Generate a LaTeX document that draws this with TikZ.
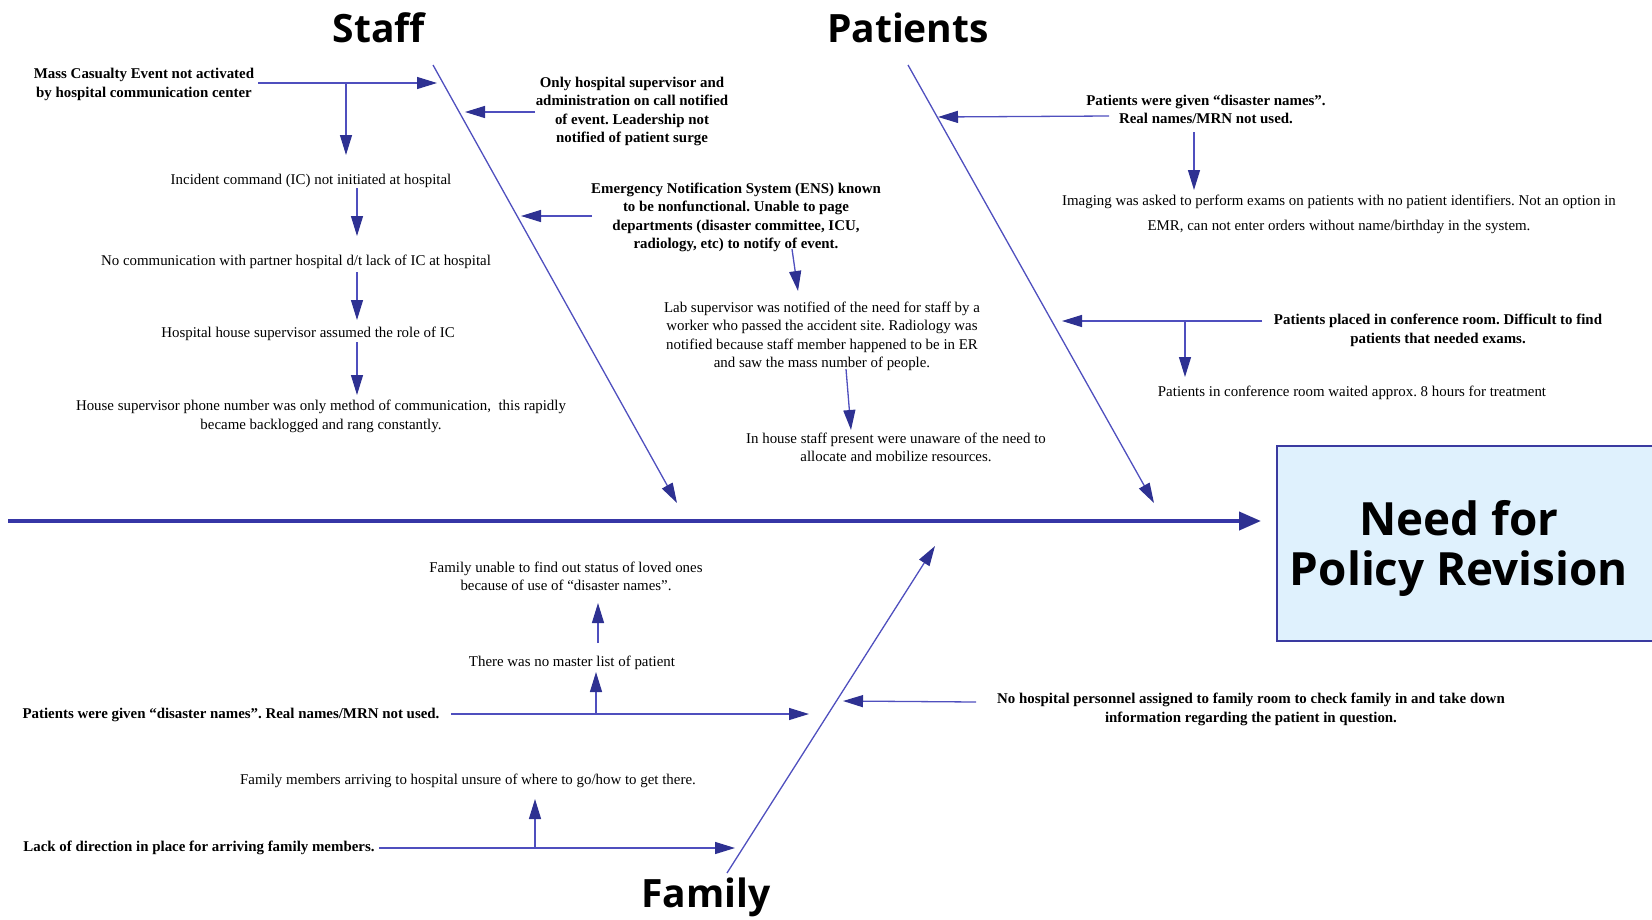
\documentclass[tikz,border=0pt]{standalone}
\usepackage{fontspec}
\setmainfont{Liberation Serif}
\newfontfamily\titlefont{Open Sans}
\usetikzlibrary{arrows.meta,calc}
\frenchspacing
\definecolor{bone}{HTML}{4F4FBE}
\definecolor{arr}{HTML}{2E3192}
\definecolor{spinec}{HTML}{3636A6}
\definecolor{boxfill}{HTML}{DFF1FD}
\definecolor{boxline}{HTML}{3A3AA0}
\tikzset{
  bt/.style={font=\fontsize{14.9}{18.4}\selectfont\bfseries, align=center, inner sep=0pt, yshift=-1.5pt},
  nt/.style={font=\fontsize{14.9}{18.4}\selectfont, align=center, inner sep=0pt, yshift=-1.5pt},
  title/.style={font=\titlefont\fontsize{39}{44}\selectfont\bfseries, inner sep=0pt},
  ar/.style={draw=bone, line width=1.3pt, -{Triangle[length=20pt,width=12pt,color=arr]}},
  bonel/.style={draw=bone, line width=1.3pt, -{Triangle[length=20pt,width=12pt,color=arr]}},
  spinel/.style={draw=spinec, line width=4pt, -{Triangle[length=22pt,width=18pt,color=arr]}}
}
\begin{document}
\begin{tikzpicture}[x=1pt,y=-1pt]
\useasboundingbox (0,0) rectangle (1652,919);
% titles
\node[title] (staff) at (379,28) {Staff};
\node[title] (patients) at (908,28) {Patients};
\node[title] (family) at (706,897) {Family};
% effect box
\draw[fill=boxfill, draw=boxline, line width=2.5pt] (1277,446) rectangle (1680,641);
\node[font=\titlefont\fontsize{45.8}{50}\selectfont\bfseries, align=center, inner sep=0pt] (effect) at (1459,548) {Need for\\Policy Revision};
% spine
\coordinate (spS) at (8,521);
\coordinate (spE) at (1261,521);
\draw[spinel] (spS) -- (spE);
% bones
\coordinate (stT) at (433,65); \coordinate (stB) at (677,503);
\coordinate (paT) at (908,65); \coordinate (paB) at (1154,503);
\coordinate (faB) at (727,873); \coordinate (faT) at (935,546);
\draw[bonel] (stT) -- (stB);
\draw[bonel] (paT) -- (paB);
\draw[bonel] (faB) -- (faT);

% ---------- Staff ----------
\node[bt] (mce) at (144,83) {Mass Casualty Event not activated\\by hospital communication center};
\node[nt] (ic) at (311,179) {Incident command (IC) not initiated at hospital};
\node[nt] (nocomm) at (296,260) {No communication with partner hospital d/t lack of IC at hospital};
\node[nt] (hhs) at (308,332) {Hospital house supervisor assumed the role of IC};
\node[nt] (phone) at (321,415) {House supervisor phone number was only method of communication,\ \ this rapidly\\became backlogged and rang constantly.};
\node[bt] (only) at (632,110) {Only hospital supervisor and\\administration on call notified\\of event. Leadership not\\notified of patient surge};
\node[bt] (ens) at (736,216) {Emergency Notification System (ENS) known\\to be nonfunctional. Unable to page\\departments (disaster committee, ICU,\\radiology, etc) to notify of event.};
\node[nt] (lab) at (822,335) {Lab supervisor was notified of the need for staff by a\\worker who passed the accident site. Radiology was\\notified because staff member happened to be in ER\\and saw the mass number of people.};
\node[nt] (inhouse) at (896,446) {In house staff present were unaware of the need to\\allocate and mobilize resources.};

\coordinate (mceS) at (258,83); \coordinate (mceT) at (437,83);
\draw[ar] (mceS) -- (mceT);
\coordinate (j1) at (346,83); \coordinate (icT) at (346,155);
\draw[ar] (j1) -- (icT);
\coordinate (icS) at (357,188); \coordinate (ncT) at (357,236);
\draw[ar] (icS) -- (ncT);
\coordinate (ncS) at (357,272); \coordinate (hhT) at (357,320);
\draw[ar] (ncS) -- (hhT);
\coordinate (hhS) at (357,342); \coordinate (phT) at (357,395);
\draw[ar] (hhS) -- (phT);
\coordinate (onS) at (535,112); \coordinate (onT) at (465,112);
\draw[ar] (onS) -- (onT);
\coordinate (enS) at (592,216); \coordinate (enT) at (521,216);
\draw[ar] (enS) -- (enT);
\coordinate (en2S) at (792,249); \coordinate (labT) at (798,291);
\draw[ar] (en2S) -- (labT);
\coordinate (labS) at (846,369); \coordinate (ihT) at (851,430);
\draw[ar] (labS) -- (ihT);

% ---------- Patients ----------
\node[bt] (pdn) at (1206,108) {Patients were given “disaster names”.\\Real names/MRN not used.};
\node[nt, font=\fontsize{14.9}{25}\selectfont] (imaging) at (1339,213) {Imaging was asked to perform exams on patients with no patient identifiers. Not an option in\\EMR, can not enter orders without name/birthday in the system.};
\node[bt] (conf) at (1438,329) {Patients placed in conference room. Difficult to find\\patients that needed exams.};
\node[nt] (wait) at (1352,391) {Patients in conference room waited approx. 8 hours for treatment};

\coordinate (pdS) at (1109,116); \coordinate (pdT) at (938,117);
\draw[ar] (pdS) -- (pdT);
\coordinate (pd2S) at (1194,132); \coordinate (imT) at (1194,190);
\draw[ar] (pd2S) -- (imT);
\coordinate (coS) at (1262,321); \coordinate (coT) at (1062,321);
\draw[ar] (coS) -- (coT);
\coordinate (j2) at (1185,321); \coordinate (waT) at (1185,377);
\draw[ar] (j2) -- (waT);

% ---------- Family ----------
\node[nt] (funable) at (566,575) {Family unable to find out status of loved ones\\because of use of “disaster names”.};
\node[nt] (master) at (572,661) {There was no master list of patient};
\node[bt] (pdn2) at (231,713) {Patients were given “disaster names”. Real names/MRN not used.};
\node[bt] (nohosp) at (1251,708) {No hospital personnel assigned to family room to check family in and take down\\information regarding the patient in question.};
\node[nt] (fmembers) at (468,779) {Family members arriving to hospital unsure of where to go/how to get there.};
\node[bt] (lack) at (199,846) {Lack of direction in place for arriving family members.};

\coordinate (maS) at (598,643); \coordinate (fuT) at (598,603);
\draw[ar] (maS) -- (fuT);
\coordinate (j3) at (596,714); \coordinate (maT) at (596,672);
\draw[ar] (j3) -- (maT);
\coordinate (p2S) at (451,714); \coordinate (p2T) at (809,714);
\draw[ar] (p2S) -- (p2T);
\coordinate (nhS) at (976,702); \coordinate (nhT) at (843,701);
\draw[ar] (nhS) -- (nhT);
\coordinate (j4) at (535,847); \coordinate (fmT) at (535,799);
\draw[ar] (j4) -- (fmT);
\coordinate (laS) at (379,848); \coordinate (laT) at (735,848);
\draw[ar] (laS) -- (laT);
\end{tikzpicture}
\end{document}
